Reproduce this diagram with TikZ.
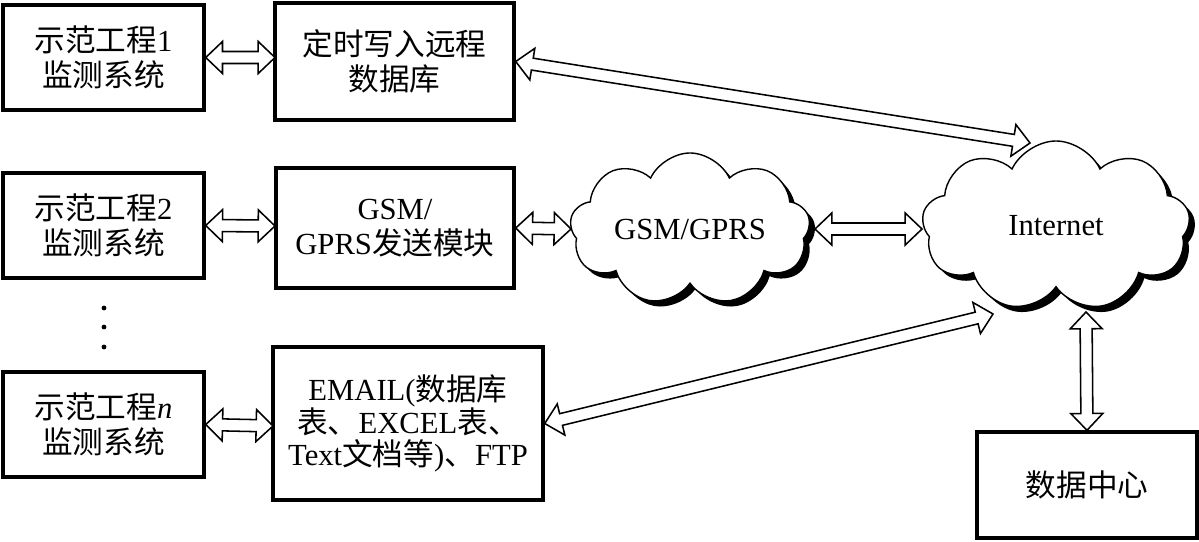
\documentclass[tikz,border=0pt]{standalone}
\usepackage{fontspec}
\setmainfont{Liberation Serif}
\newfontfamily\cjk{Noto Sans CJK SC}
\usepackage{tikz}
\usetikzlibrary{positioning,calc,shapes.symbols,shadows}

\begin{document}
\begin{tikzpicture}[x=0.025cm, y=-0.025cm,
  every node/.style={font=\fontsize{21.8}{25}\selectfont},
  box/.style={draw, line width=2.4pt, fill=white, align=center, inner sep=0pt},
  sky/.style={cloud, cloud puffs=9, cloud puff arc=130, cloud ignores aspect, draw, line width=1pt, fill=white,
    drop shadow={fill=black, opacity=1, shadow xshift=4pt, shadow yshift=-4pt}},
  dbl/.style={draw, line width=1.1pt, fill=white, to path={
    -- ($(\tikztostart)!0.42cm!(\tikztotarget)!0.4cm!90:(\tikztotarget)$)
    -- ($(\tikztostart)!0.42cm!(\tikztotarget)!0.15cm!90:(\tikztotarget)$)
    -- ($(\tikztotarget)!0.42cm!(\tikztostart)!0.15cm!-90:(\tikztostart)$)
    -- ($(\tikztotarget)!0.42cm!(\tikztostart)!0.4cm!-90:(\tikztostart)$)
    -- (\tikztotarget)
    -- ($(\tikztotarget)!0.42cm!(\tikztostart)!0.4cm!90:(\tikztostart)$)
    -- ($(\tikztotarget)!0.42cm!(\tikztostart)!0.15cm!90:(\tikztostart)$)
    -- ($(\tikztostart)!0.42cm!(\tikztotarget)!0.15cm!-90:(\tikztotarget)$)
    -- ($(\tikztostart)!0.42cm!(\tikztotarget)!0.4cm!-90:(\tikztotarget)$)
    -- cycle}}]
  \useasboundingbox (0,0) rectangle (1199,541);

  \node[box, minimum width=5.025cm, minimum height=2.625cm] (m1) at (103.5,57.5) {{\cjk 示范工程}1\\{\cjk 监测系统}};
  \node[box, minimum width=5.025cm, minimum height=2.625cm] (m2) at (103.5,225.5) {{\cjk 示范工程}2\\{\cjk 监测系统}};
  \node[box, minimum width=5.025cm, minimum height=2.625cm] (mn) at (103.5,424.5) {{\cjk 示范工程}\textit{n}\\{\cjk 监测系统}};
  \node[box, minimum width=5.975cm, minimum height=2.925cm] (dbw) at (394.5,61.5) {{\cjk 定时写入远程}\\{\cjk 数据库}};
  \node[box, minimum width=5.95cm, minimum height=3cm] (gprs) at (395,228) {GSM/\\GPRS{\cjk 发送模块}};
  \node[box, minimum width=6.75cm, minimum height=3.825cm, font=\fontsize{21.8}{23}\selectfont] (mail) at (408,423.5) {EMAIL({\cjk 数据库}\\{\cjk 表、}EXCEL{\cjk 表、}\\Text{\cjk 文档等}){\cjk 、}FTP};
  \node[box, minimum width=5.5cm, minimum height=2.65cm] (dc) at (1087,485) {{\cjk 数据中心}};

  \node[sky, minimum width=6cm, minimum height=3.8cm] (gsm) at (690,229) {GSM/GPRS};
  \node[sky, minimum width=6.7cm, minimum height=4.25cm] (net) at (1056,226) {Internet};

  \foreach \y in {308,327,347} \fill (104,\y) circle (0.06cm);

  \coordinate (t1) at (275,57.5);
  \coordinate (t2) at (275,226);
  \coordinate (t3) at (273,426);
  \coordinate (g1) at (571,229);
  \coordinate (g2) at (815,229);
  \coordinate (n1) at (922,229);
  \coordinate (ntop) at (1030,143);
  \coordinate (nlow) at (993,314);
  \coordinate (nbot) at (1086,312);

  \draw[dbl] (m1.east) to (t1);
  \draw[dbl] (m2.east) to (t2);
  \draw[dbl] (mn.east) to (t3);
  \draw[dbl] (gprs.east) to (g1);
  \draw[dbl] (g2) to (n1);
  \draw[dbl] (dbw.east) to (ntop);
  \draw[dbl] (mail.east) to (nlow);
  \draw[dbl] (nbot) to (dc.north);
\end{tikzpicture}
\end{document}
